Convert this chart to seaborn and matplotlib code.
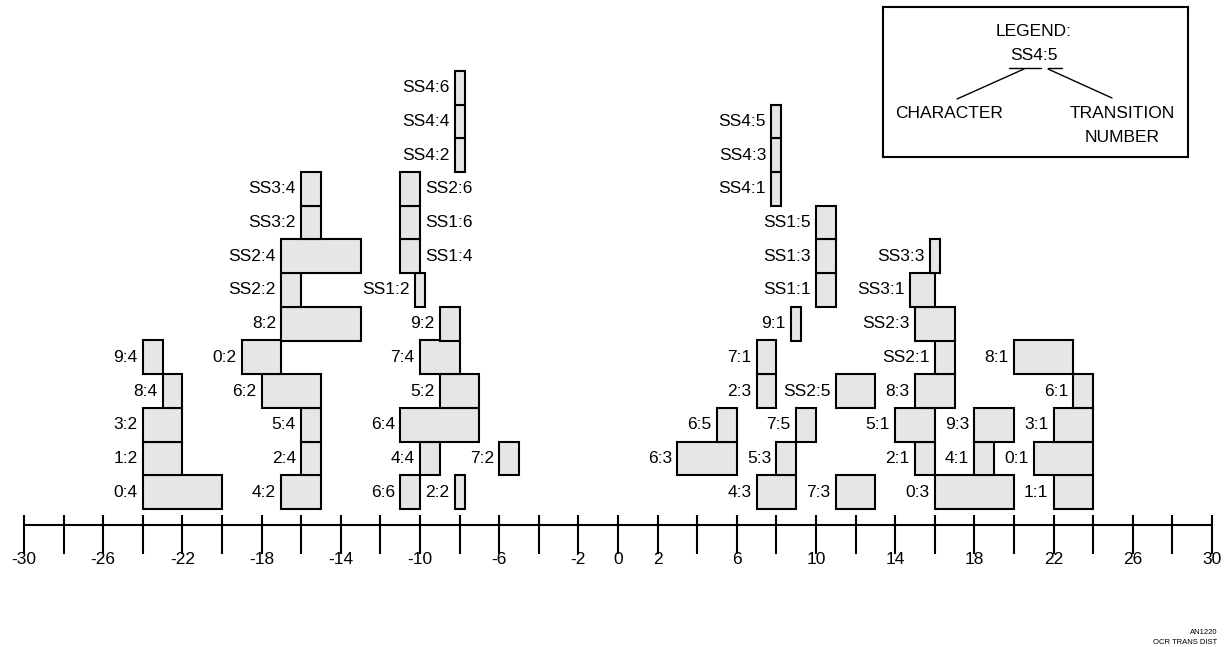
import numpy as np
import pandas as pd
import seaborn as sns
import matplotlib.pyplot as plt

# OCR transition distribution: each box = one transition of one character
labels = ['0:4', '1:2', '3:2', '8:4', '9:4',
          '4:2', '2:4', '5:4', '6:2', '0:2', '8:2', 'SS2:2', 'SS2:4', 'SS3:2', 'SS3:4',
          '6:6', '2:2', '4:4', '7:2', '6:4', '5:2', '7:4', '9:2', 'SS1:2',
          'SS1:4', 'SS1:6', 'SS2:6', 'SS4:2', 'SS4:4', 'SS4:6',
          '4:3', '7:3', '6:3', '5:3', '6:5', '7:5', '2:3', 'SS2:5', '7:1', '9:1',
          'SS1:1', 'SS1:3', 'SS1:5', 'SS4:1', 'SS4:3', 'SS4:5',
          '0:3', '1:1', '2:1', '4:1', '0:1', '5:1', '9:3', '3:1', '8:3', '6:1',
          'SS2:1', '8:1', 'SS2:3', 'SS3:1', 'SS3:3']
starts = [-24, -24, -24, -23, -24,
          -17, -16, -16, -18, -19, -17, -17, -17, -16, -16,
          -11, -8.25, -10, -6, -11, -9, -10, -9, -10.25,
          -11, -11, -11, -8.25, -8.25, -8.25,
          7, 11, 3, 8, 5, 9, 7, 11, 7, 8.75,
          10, 10, 10, 7.75, 7.75, 7.75,
          16, 22, 15, 18, 21, 14, 18, 22, 15, 23,
          16, 20, 15, 14.75, 15.75]
ends = [-20, -22, -22, -22, -23,
        -15, -15, -15, -15, -17, -13, -16, -13, -15, -15,
        -10, -7.75, -9, -5, -7, -7, -8, -8, -9.75,
        -10, -10, -10, -7.75, -7.75, -7.75,
        9, 13, 6, 9, 6, 10, 8, 13, 8, 9.25,
        11, 11, 11, 8.25, 8.25, 8.25,
        20, 24, 16, 19, 24, 16, 20, 24, 17, 24,
        17, 23, 17, 16, 16.25]
levels = [0, 1, 2, 3, 4,
          0, 1, 2, 3, 4, 5, 6, 7, 8, 9,
          0, 0, 1, 1, 2, 3, 4, 5, 6,
          7, 8, 9, 10, 11, 12,
          0, 0, 1, 1, 2, 2, 3, 3, 4, 5,
          6, 7, 8, 9, 10, 11,
          0, 0, 1, 1, 1, 2, 2, 2, 3, 3,
          4, 4, 5, 6, 7]
right_labels = ['SS1:4', 'SS1:6', 'SS2:6']

tick_values = np.arange(-30, 31, 2)
tick_labels = ['-30', '', '-26', '', '-22', '', '-18', '', '-14', '', '-10', '', '-6', '', '-2',
               '0', '2', '', '6', '', '10', '', '14', '', '18', '', '22', '', '26', '', '30']

df = pd.DataFrame({'label': labels, 'start': starts, 'end': ends, 'level': levels})
df['width'] = df['end'] - df['start']

sns.set_theme(style='white')
plt.rcParams['font.family'] = ['Liberation Sans', 'DejaVu Sans']
plt.rcParams['text.color'] = 'black'
plt.rcParams['xtick.labelcolor'] = 'black'

W, H = 1224, 647
fig = plt.figure(figsize=(W / 100, H / 100), dpi=100)
ax = fig.add_axes([0, 0, 1, 1])

# pixel layout: x=0 at px 618, 19.8 px per unit; level 0 bottom at px 509, 33.7 px per level
ppu, x0 = 19.8, 618
row_h, base = 33.7, 509
ax.set_xlim(-x0 / ppu, (W - x0) / ppu)
ax.set_ylim(-(H - base) / row_h, base / row_h)

ax.barh(df['level'], df['width'], left=df['start'], height=1, align='edge',
        color='#e6e6e6', edgecolor='black', linewidth=1.5)

gap = 0.27
for _, r in df.iterrows():
    if r['label'] in right_labels:
        ax.text(r['end'] + gap, r['level'] + 0.5, r['label'], ha='left', va='center',
                fontsize=12.5, color='black')
    else:
        ax.text(r['start'] - gap, r['level'] + 0.5, r['label'], ha='right', va='center',
                fontsize=12.5, color='black')

# number line
line_y = (base - 525) / row_h
ax.hlines(line_y, tick_values[0], tick_values[-1], color='black', linewidth=1.5)
for s in ['top', 'left', 'right']:
    ax.spines[s].set_visible(False)
ax.spines['bottom'].set_position(('data', (base - 515) / row_h))
ax.spines['bottom'].set_visible(False)
ax.set_xticks(tick_values)
ax.set_xticklabels(tick_labels)
ax.tick_params(axis='x', direction='out', length=28, width=1.5, color='black',
               labelsize=12.5, pad=-1.5, bottom=True)
ax.set_yticks([])

# legend box
lg = fig.add_axes([883 / W, (H - 157) / H, (1188 - 883) / W, 150 / H])
lg.set_xlim(883, 1188)
lg.set_ylim(157, 7)
lg.set_xticks([])
lg.set_yticks([])
lg.set_facecolor('white')
for s in lg.spines.values():
    s.set_visible(True)
    s.set_color('black')
    s.set_linewidth(1.5)
lg.text(1034, 32, 'LEGEND:', ha='center', va='center', fontsize=12.5)
lg.text(1034, 56, 'SS4:5', ha='center', va='center', fontsize=12.5)
lg.plot([1009, 1041], [68, 68], color='black', lw=1)
lg.plot([1048, 1062], [68, 68], color='black', lw=1)
lg.plot([1024, 957], [69, 99], color='black', lw=1)
lg.plot([1048, 1112], [69, 98], color='black', lw=1)
lg.text(949, 114, 'CHARACTER', ha='center', va='center', fontsize=12.5)
lg.text(1122, 114, 'TRANSITION', ha='center', va='center', fontsize=12.5)
lg.text(1122, 137, 'NUMBER', ha='center', va='center', fontsize=12.5)

fig.text(1217 / W, 1 - 632 / H, 'AN1220', ha='right', va='center', fontsize=5.5)
fig.text(1217 / W, 1 - 643 / H, 'OCR TRANS DIST', ha='right', va='center', fontsize=5.5)

fig.savefig('out.png', dpi=100)
